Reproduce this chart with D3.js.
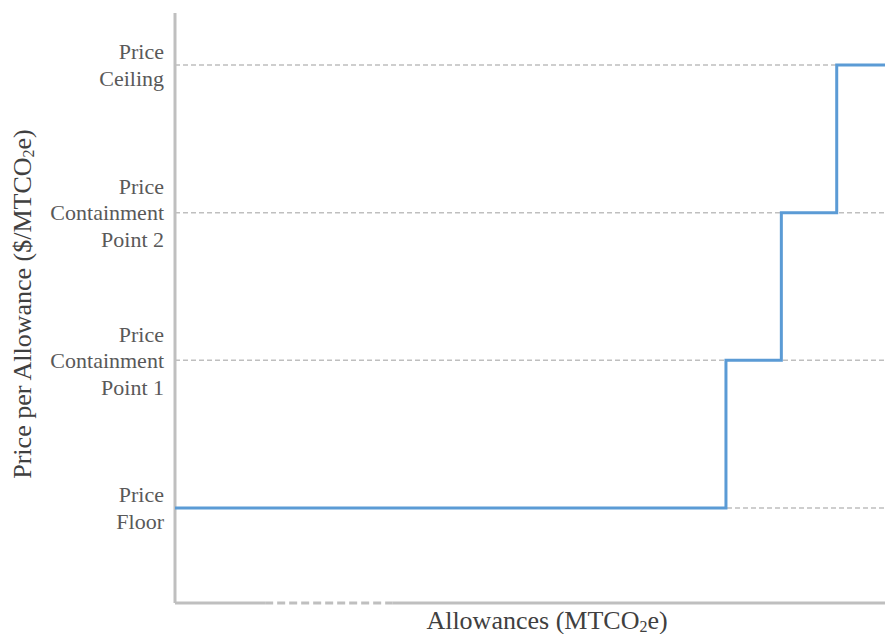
<!DOCTYPE html>
<html>
<head>
<meta charset="utf-8">
<script src="https://cdn.jsdelivr.net/npm/d3@7"></script>
<style>
  body { margin: 0; background: #fff; }
  text { font-family: "Liberation Serif", "Times New Roman", serif; }
</style>
</head>
<body>
<svg id="chart" width="885" height="634"></svg>
<script>
// price levels (bottom to top) and their labels
const levels = [1, 2, 3, 4];
const levelLabels = [
  ["Price", "Floor"],
  ["Price", "Containment", "Point 1"],
  ["Price", "Containment", "Point 2"],
  ["Price", "Ceiling"]
];

// step points: allowance quantity where each price level starts
const stepX = [0, 77.6, 85.4, 93.2, 100];
const stepY = [1, 2, 3, 4, 4];

// break drawn on the x axis
const axisBreak = [12.7, 30.6];

const width = 885, height = 634;
const margin = { left: 175, right: 0, top: 13, bottom: 31 };

const svg = d3.select("#chart");

const x = d3.scaleLinear()
    .domain([0, 100])
    .range([margin.left, width - margin.right]);

const y = d3.scaleLinear()
    .domain([0.357, 4.352])
    .range([height - margin.bottom, margin.top]);

const axisColor = "#bfbfbf";

// dashed reference lines at each price level
svg.append("g")
  .selectAll("line")
  .data(levels)
  .join("line")
    .attr("x1", x(0))
    .attr("x2", x(100))
    .attr("y1", d => y(d))
    .attr("y2", d => y(d))
    .attr("stroke", axisColor)
    .attr("stroke-width", 1.5)
    .attr("stroke-dasharray", "5,3");

// y axis line
svg.append("line")
    .attr("x1", x(0)).attr("x2", x(0))
    .attr("y1", y.range()[1]).attr("y2", y.range()[0])
    .attr("stroke", axisColor)
    .attr("stroke-width", 3);

// x axis: solid, dashed break, solid
const xSegs = [
  { from: 0, to: axisBreak[0], dash: null },
  { from: axisBreak[0], to: axisBreak[1], dash: "8,4" },
  { from: axisBreak[1], to: 100, dash: null }
];
svg.append("g")
  .selectAll("line")
  .data(xSegs)
  .join("line")
    .attr("x1", d => x(d.from))
    .attr("x2", d => x(d.to))
    .attr("y1", y.range()[0])
    .attr("y2", y.range()[0])
    .attr("stroke", axisColor)
    .attr("stroke-width", 3)
    .attr("stroke-dasharray", d => d.dash);

// supply step line
const pts = stepX.map((v, i) => [v, stepY[i]]);
const line = d3.line()
    .x(d => x(d[0]))
    .y(d => y(d[1]))
    .curve(d3.curveStepAfter);

svg.append("path")
    .datum(pts)
    .attr("d", line)
    .attr("fill", "none")
    .attr("stroke", "#5b9bd5")
    .attr("stroke-width", 3);

// level labels
const lineH = 26.5;
const lab = svg.append("g")
  .selectAll("text")
  .data(levels)
  .join("text")
    .attr("text-anchor", "end")
    .attr("font-size", 22)
    .attr("fill", "#595959")
    .attr("transform", d => `translate(${x(0) - 11},${y(d)})`);

lab.each(function(d, i) {
  const rows = levelLabels[i];
  const t = d3.select(this);
  rows.forEach((r, j) => {
    t.append("tspan")
      .attr("x", 0)
      .attr("y", (j - (rows.length - 1) / 2) * lineH)
      .attr("dy", "0.35em")
      .text(r);
  });
});

// axis titles
const xt = svg.append("text")
    .attr("x", 547)
    .attr("y", 629)
    .attr("text-anchor", "middle")
    .attr("font-size", 26)
    .attr("fill", "#404040");
xt.append("tspan").text("Allowances (MTCO");
xt.append("tspan").attr("font-size", 16).attr("dy", 3).text("2");
xt.append("tspan").attr("dy", -3).text("e)");

const yt = svg.append("text")
    .attr("transform", "translate(31,304) rotate(-90)")
    .attr("text-anchor", "middle")
    .attr("font-size", 26)
    .attr("fill", "#404040");
yt.append("tspan").text("Price per Allowance ($/MTCO");
yt.append("tspan").attr("font-size", 16).attr("dy", 3).text("2");
yt.append("tspan").attr("dy", -3).text("e)");
</script>
</body>
</html>
